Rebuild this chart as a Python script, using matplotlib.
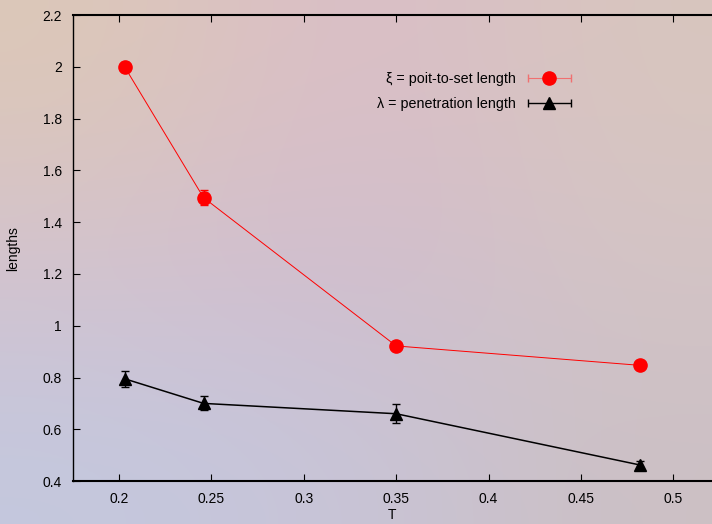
import numpy as np
import matplotlib.pyplot as plt
from matplotlib.container import ErrorbarContainer
from matplotlib.legend_handler import HandlerErrorbar

plt.rcParams['font.family'] = ['Liberation Sans', 'DejaVu Sans']

# data
T_xi = [0.203, 0.2457, 0.350, 0.482]
xi = [2.00, 1.495, 0.922, 0.847]
xi_err = [0.02, 0.03, 0.012, 0.012]

T_lam = [0.203, 0.2457, 0.350, 0.482]
lam = [0.795, 0.700, 0.660, 0.462]
lam_err = [0.03, 0.027, 0.037, 0.015]

xticks = [0.2, 0.25, 0.3, 0.35, 0.4, 0.45, 0.5]
yticks = [0.4, 0.6, 0.8, 1.0, 1.2, 1.4, 1.6, 1.8, 2.0, 2.2]
ytick_labels = ['0.4', '0.6', '0.8', '1', '1.2', '1.4', '1.6', '1.8', '2', '2.2']

fig = plt.figure(figsize=(7.12, 5.24), dpi=100)

# soft background gradient
grid = np.array([
    [[220, 200, 184], [218, 188, 202], [216, 198, 190]],
    [[212, 194, 206], [208, 188, 206], [212, 196, 198]],
    [[196, 200, 222], [200, 196, 216], [204, 192, 196]],
]) / 255.0
bg = fig.add_axes([0, 0, 1, 1], zorder=-10)
bg.imshow(grid, aspect='auto', interpolation='bicubic', extent=[0, 1, 0, 1])
bg.set_axis_off()

ax = fig.add_axes([0.1025, 0.082, 0.8975, 0.889])
ax.set_facecolor('none')

ax.errorbar(T_xi, xi, yerr=xi_err, fmt='-o', color='red', ms=9.5,
            lw=0.7, elinewidth=0.7, capsize=3, zorder=3)
ax.errorbar(T_lam, lam, yerr=lam_err, fmt='-^', color='black', ms=8.5,
            lw=1.1, elinewidth=1.0, capsize=3, zorder=3)

# legend proxies in gnuplot style (horizontal bars with caps)
h1 = ax.errorbar([np.nan], [np.nan], xerr=[1], fmt='o', color='red', ecolor='#f07070',
                 ms=9.5, elinewidth=0.8, capsize=3, label='ξ = poit-to-set length')
h2 = ax.errorbar([np.nan], [np.nan], xerr=[1], fmt='^', color='black',
                 ms=8.5, elinewidth=1.0, capsize=3, label='λ = penetration length')
ax.legend(handles=[h1, h2], markerfirst=False, frameon=False, fontsize=10.3,
          handlelength=3.0, handletextpad=0.8, labelspacing=0.75,
          loc='upper right', bbox_to_anchor=(0.799, 0.905),
          handler_map={ErrorbarContainer: HandlerErrorbar(xerr_size=1.5)})

ax.set_xlim(0.175, 0.521)
ax.set_ylim(0.4, 2.2)
ax.set_xticks(xticks)
ax.set_xticklabels(['0.2', '0.25', '0.3', '0.35', '0.4', '0.45', '0.5'])
ax.set_yticks(yticks)
ax.set_yticklabels(ytick_labels)
ax.tick_params(direction='in', length=5, width=0.8, labelsize=10, top=True, right=False)
ax.tick_params(axis='x', pad=8)
ax.tick_params(axis='y', pad=8)

ax.spines['right'].set_visible(False)
for s in ['top', 'bottom']:
    ax.spines[s].set_linewidth(1.5)
ax.spines['left'].set_linewidth(1.0)

ax.set_xlabel('T', fontsize=10, labelpad=1)
ax.set_ylabel('lengths', fontsize=10, labelpad=16)

fig.savefig('out.png', dpi=100)
